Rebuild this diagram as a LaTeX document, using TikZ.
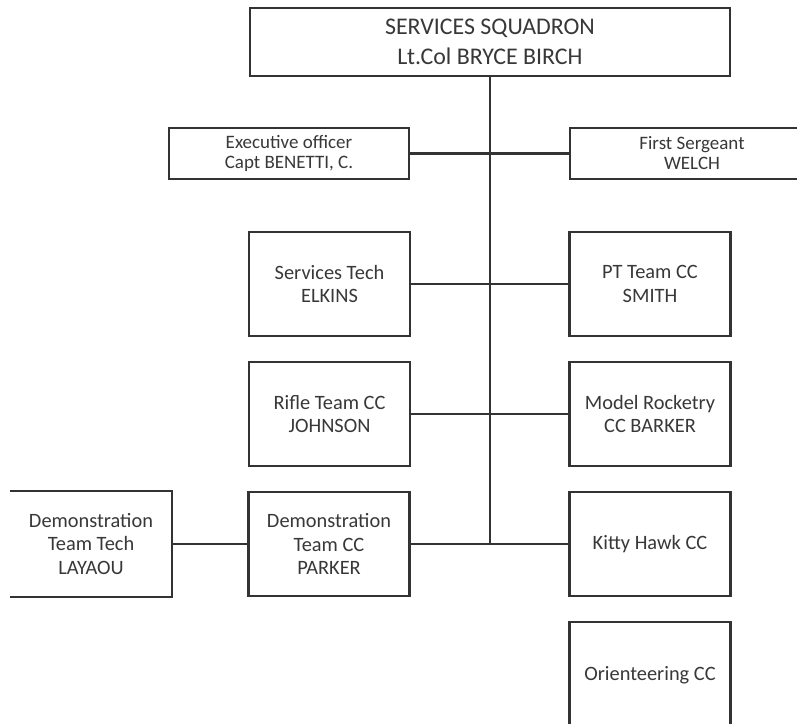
\documentclass[tikz,border=0pt]{standalone}
\usepackage{fontspec}
\setmainfont{Carlito}
\definecolor{edge}{HTML}{333333}
\definecolor{ink}{HTML}{383838}
\begin{document}
\begin{tikzpicture}[x=0.02cm,y=-0.02cm,
  unit/.style={draw=edge,line width=1.2pt,fill=white,text=ink,align=center,
    inner sep=0pt,minimum width=#1*0.02cm},
  unit/.default=161,
  tall/.style={minimum height=104*0.02cm,font=\fontsize{11.6}{13.6}\selectfont},
  flat/.style={minimum height=51*0.02cm,font=\fontsize{10.8}{11.4}\selectfont},
  link/.style={draw=edge,line width=1.2pt}]
\useasboundingbox (0,0) rectangle (797,723);
\clip (0,0) rectangle (797,723);

% command line
\node[unit=480,minimum height=68*0.02cm,font=\fontsize{13.6}{17}\selectfont] (sq) at (490,42)
  {SERVICES SQUADRON\\Lt.Col BRYCE BIRCH};
\coordinate (spine) at (490,544);

% staff row
\node[unit=240,flat] (xo) at (289,153.5) {Executive officer\\Capt BENETTI, C.};
\node[unit=244,flat] (fs) at (692,153.5) {First Sergeant\\WELCH};

% team leaders
\node[unit,tall] (st) at (329.5,284) {Services Tech\\ELKINS};
\node[unit,tall] (pt) at (650,284) {PT Team CC\\SMITH};
\node[unit,tall] (rt) at (329.5,414) {Rifle Team CC\\JOHNSON};
\node[unit,tall] (mr) at (650,414) {Model Rocketry\\CC BARKER};
\node[unit,tall] (dc) at (329,544) {Demonstration\\Team CC\\PARKER};
\node[unit,tall] (kh) at (650,544) {Kitty Hawk CC};
\node[unit,tall,minimum height=106*0.02cm] (oc) at (650,675) {Orienteering CC};
\node[unit=160,tall,draw=none] (dt) at (91,544) {Demonstration\\Team Tech\\LAYAOU};
\draw[link] (dt.north west) -- (dt.north east) -- (dt.south east) -- (dt.south west);

% connectors
\draw[link] (sq.south) -- (spine);
\draw[link] (xo.east) -- (fs.west);
\draw[link] (st.east) -- (pt.west);
\draw[link] (rt.east) -- (mr.west);
\draw[link] (dc.east) -- (kh.west);
\draw[link] (dt.east) -- (dc.west);
\end{tikzpicture}
\end{document}
